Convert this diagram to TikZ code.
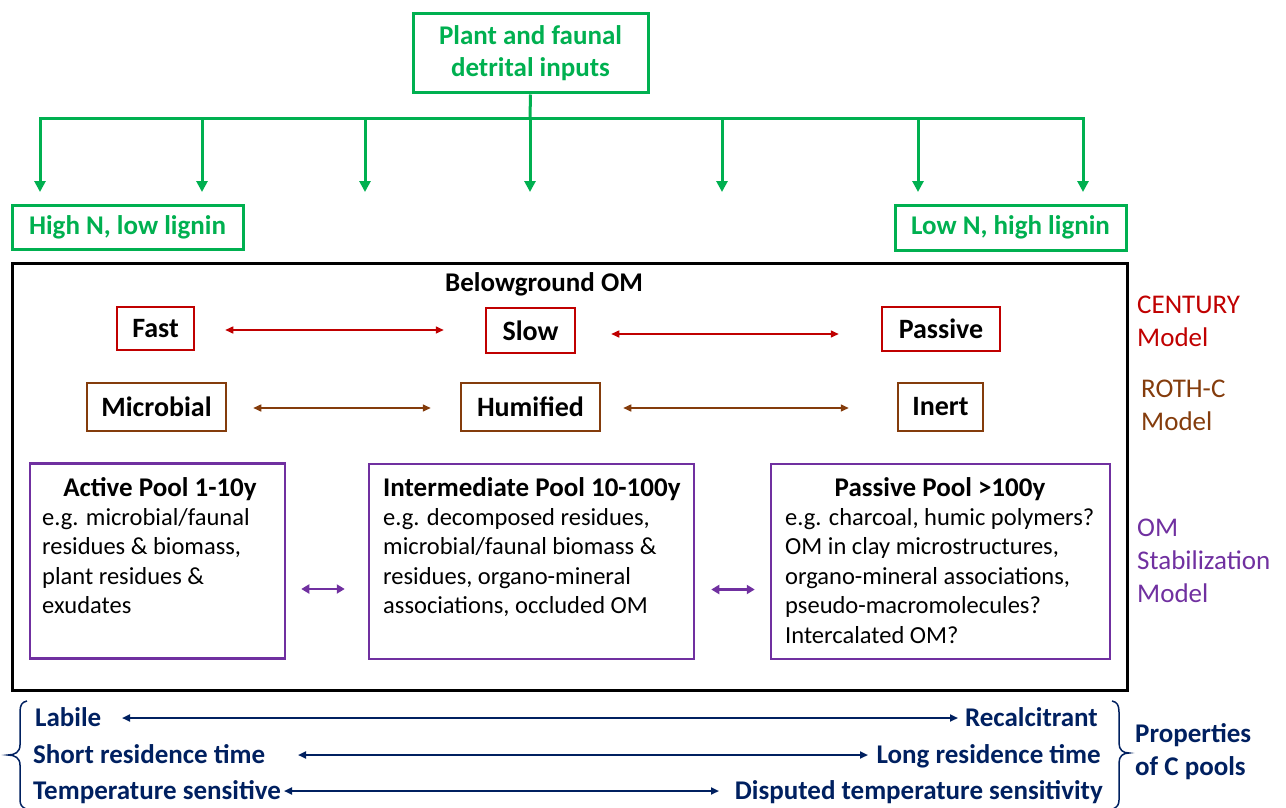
\documentclass[tikz,border=0pt]{standalone}
\usepackage{fontspec}
\setmainfont{Carlito}
\usetikzlibrary{arrows.meta}
\definecolor{cgreen}{HTML}{00B050}
\definecolor{cred}{HTML}{C00000}
\definecolor{cbrown}{HTML}{843C0C}
\definecolor{cpurple}{HTML}{7030A0}
\definecolor{cnavy}{HTML}{002060}
\begin{document}
\begin{tikzpicture}[x=1pt,y=-1pt,
  txt/.style={font=\fontsize{24.5}{29.5}\selectfont, inner sep=0pt, align=left},
  lbl/.style={font=\fontsize{27}{33}\selectfont, inner sep=0pt, align=left},
  btxt/.style={font=\bfseries\fontsize{27}{30}\selectfont, inner sep=0pt},
  gbox/.style={draw=cgreen, line width=3pt, text=cgreen, font=\bfseries\fontsize{27}{32}\selectfont, align=center, inner sep=0pt},
  rbox/.style={draw=cred, line width=2.5pt, font=\bfseries\fontsize{28}{30}\selectfont, inner sep=0pt},
  bbox/.style={draw=cbrown, line width=2.5pt, font=\bfseries\fontsize{28}{30}\selectfont, inner sep=0pt},
  pbox/.style={draw=cpurple, line width=2.5pt, inner sep=0pt},
  garrow/.style={cgreen, line width=3pt, -{Triangle[length=11pt,width=11pt]}},
  rarrow/.style={cred, line width=1.5pt, {Triangle[length=8pt,width=7pt]}-{Triangle[length=8pt,width=7pt]}},
  brarrow/.style={cbrown, line width=1.5pt, {Triangle[length=8pt,width=7pt]}-{Triangle[length=8pt,width=7pt]}},
  parrow/.style={cpurple, line width=2.5pt, {Triangle[length=8pt,width=9pt]}-{Triangle[length=8pt,width=9pt]}},
  narrow/.style={cnavy, line width=2pt, {Triangle[length=8pt,width=7pt]}-{Triangle[length=8pt,width=7pt]}},
  ntxt/.style={text=cnavy, font=\bfseries\fontsize{27}{33}\selectfont, inner sep=0pt, align=left}
]
\useasboundingbox (0,0) rectangle (1286,808);

% ---------- inputs ----------
\node[gbox, minimum width=235pt, minimum height=79pt] (inp) at (530.5,53.5) {Plant and faunal\\detrital inputs};
\node[gbox, minimum width=231pt, minimum height=44pt] (high) at (127.5,227) {High N, low lignin};
\node[gbox, minimum width=231pt, minimum height=45pt] (low) at (1010.5,227.5) {Low N, high lignin};

\foreach \i/\x in {1/40,2/202,3/365,4/530,5/722,6/918,7/1083}{
  \coordinate (b\i) at (\x,118);
  \coordinate (t\i) at (\x,192);
}
\draw[cgreen, line width=3pt, line cap=rect] (b1) -- (b7);
\draw[cgreen, line width=3pt] (inp.south) -- (b4);
\foreach \i in {1,...,7}{ \draw[garrow] (b\i) -- (t\i); }

% ---------- belowground box ----------
\node[draw, line width=3pt, minimum width=1115pt, minimum height=427pt, inner sep=0pt] (om) at (569.5,476.5) {};
\node[btxt, anchor=base] (omt) at (544,291) {Belowground OM};

% CENTURY
\node[rbox, minimum width=77pt, minimum height=43pt] (fast) at (155.5,328.5) {Fast};
\node[rbox, minimum width=89pt, minimum height=45pt] (slow) at (530.5,330.5) {Slow};
\node[rbox, minimum width=118pt, minimum height=44pt] (passive) at (941,329) {Passive};
\draw[rarrow] ([shift={(30pt,-1.5pt)}]fast.east) -- ([shift={(-41pt,-1.5pt)}]fast.east -| slow.west);
\draw[rarrow] ([shift={(35pt,-3.5pt)}]slow.east) -- ([shift={(-42pt,-3.5pt)}]slow.east -| passive.west);

% ROTH-C
\node[bbox, minimum width=139pt, minimum height=48pt] (micro) at (156.5,407) {Microbial};
\node[bbox, minimum width=139pt, minimum height=48pt] (humi) at (530.5,407) {Humified};
\node[bbox, minimum width=85pt, minimum height=48pt] (inert) at (940.5,407) {Inert};
\draw[brarrow] ([xshift=26pt,yshift=-1pt]micro.east) -- ([xshift=-29pt,yshift=-1pt]micro.east -| humi.west);
\draw[brarrow] ([xshift=22pt,yshift=-1pt]humi.east) -- ([xshift=-48pt,yshift=-1pt]humi.east -| inert.west);

% OM stabilization pools
\node[pbox, minimum width=255pt, minimum height=195pt] (act) at (157.5,561) {};
\node[pbox, minimum width=325pt, minimum height=195pt] (inter) at (531.5,561.5) {};
\node[pbox, minimum width=339pt, minimum height=195pt] (pas) at (940.5,561.5) {};

\node[btxt, anchor=base] (acth) at (160,496.5) {Active Pool 1-10y};
\node[btxt, anchor=base west] (interh) at (383,496.5) {Intermediate Pool 10-100y};
\node[btxt, anchor=base] (pash) at (940,496.5) {Passive Pool >100y};

\node[txt, anchor=north west] (actb) at (42,507) {\rule{0pt}{18pt}e.g. microbial/faunal\\residues \& biomass,\\plant residues \&\\exudates};
\node[txt, anchor=north west] (interb) at (383,507) {\rule{0pt}{18pt}e.g. decomposed residues,\\microbial/faunal biomass \&\\residues, organo-mineral\\associations, occluded OM};
\node[txt, anchor=north west] (pasb) at (785,507) {\rule{0pt}{18pt}e.g. charcoal, humic polymers?\\OM in clay microstructures,\\organo-mineral associations,\\pseudo-macromolecules?\\Intercalated OM?};

\draw[parrow] ([xshift=15pt,yshift=-28pt]act.east) -- ([xshift=-23pt,yshift=-28pt]act.east -| inter.west);
\draw[parrow] ([xshift=16pt,yshift=-28pt]inter.east) -- ([xshift=-15pt,yshift=-28pt]inter.east -| pas.west);

% model labels
\node[lbl, text=cred, anchor=north west] (cent) at (1137,293.5) {\rule{0pt}{20pt}CENTURY\\Model};
\node[lbl, text=cbrown, anchor=north west] (roth) at (1141,377.5) {\rule{0pt}{20pt}ROTH-C\\Model};
\node[lbl, text=cpurple, anchor=north west] (oms) at (1137,516.5) {\rule{0pt}{20pt}OM\\Stabilization\\Model};

% ---------- properties ----------
\node[ntxt, anchor=base west] (lab) at (35,726.5) {Labile};
\node[ntxt, anchor=base east] (rec) at (1098,726.5) {Recalcitrant};
\node[ntxt, anchor=base west] (srt) at (33,763.5) {Short residence time};
\node[ntxt, anchor=base east] (lrt) at (1101,763.5) {Long residence time};
\node[ntxt, anchor=base west] (ts) at (33,799.5) {Temperature sensitive};
\node[ntxt, anchor=base east] (dts) at (1103,799.5) {Disputed temperature sensitivity};
\node[ntxt, anchor=north west] (prop) at (1135,722.5) {\rule{0pt}{20pt}Properties\\of C pools};

\coordinate (a1l) at (122,718); \coordinate (a1r) at (958,718);
\coordinate (a2l) at (298,755); \coordinate (a2r) at (868,755);
\coordinate (a3l) at (284,791); \coordinate (a3r) at (719,791);
\draw[narrow] (a1l) -- (a1r);
\draw[narrow] (a2l) -- (a2r);
\draw[narrow] (a3l) -- (a3r);

% braces
\draw[cnavy, line width=1.5pt] (27,701) .. controls (22,702) and (20,705) .. (20,712) -- (20,745)
  .. controls (20,752) and (15,755) .. (8,755) .. controls (15,755) and (20,758) .. (20,765) -- (20,800)
  .. controls (20,805) and (22,807) .. (26,809);
\draw[cnavy, line width=1.5pt] (1112,701) .. controls (1117,702) and (1119,705) .. (1119,712) -- (1119,743)
  .. controls (1119,750) and (1123,753) .. (1129,753) .. controls (1123,753) and (1119,756) .. (1119,763) -- (1119,800)
  .. controls (1119,805) and (1117,807) .. (1113,809);
\end{tikzpicture}
\end{document}
